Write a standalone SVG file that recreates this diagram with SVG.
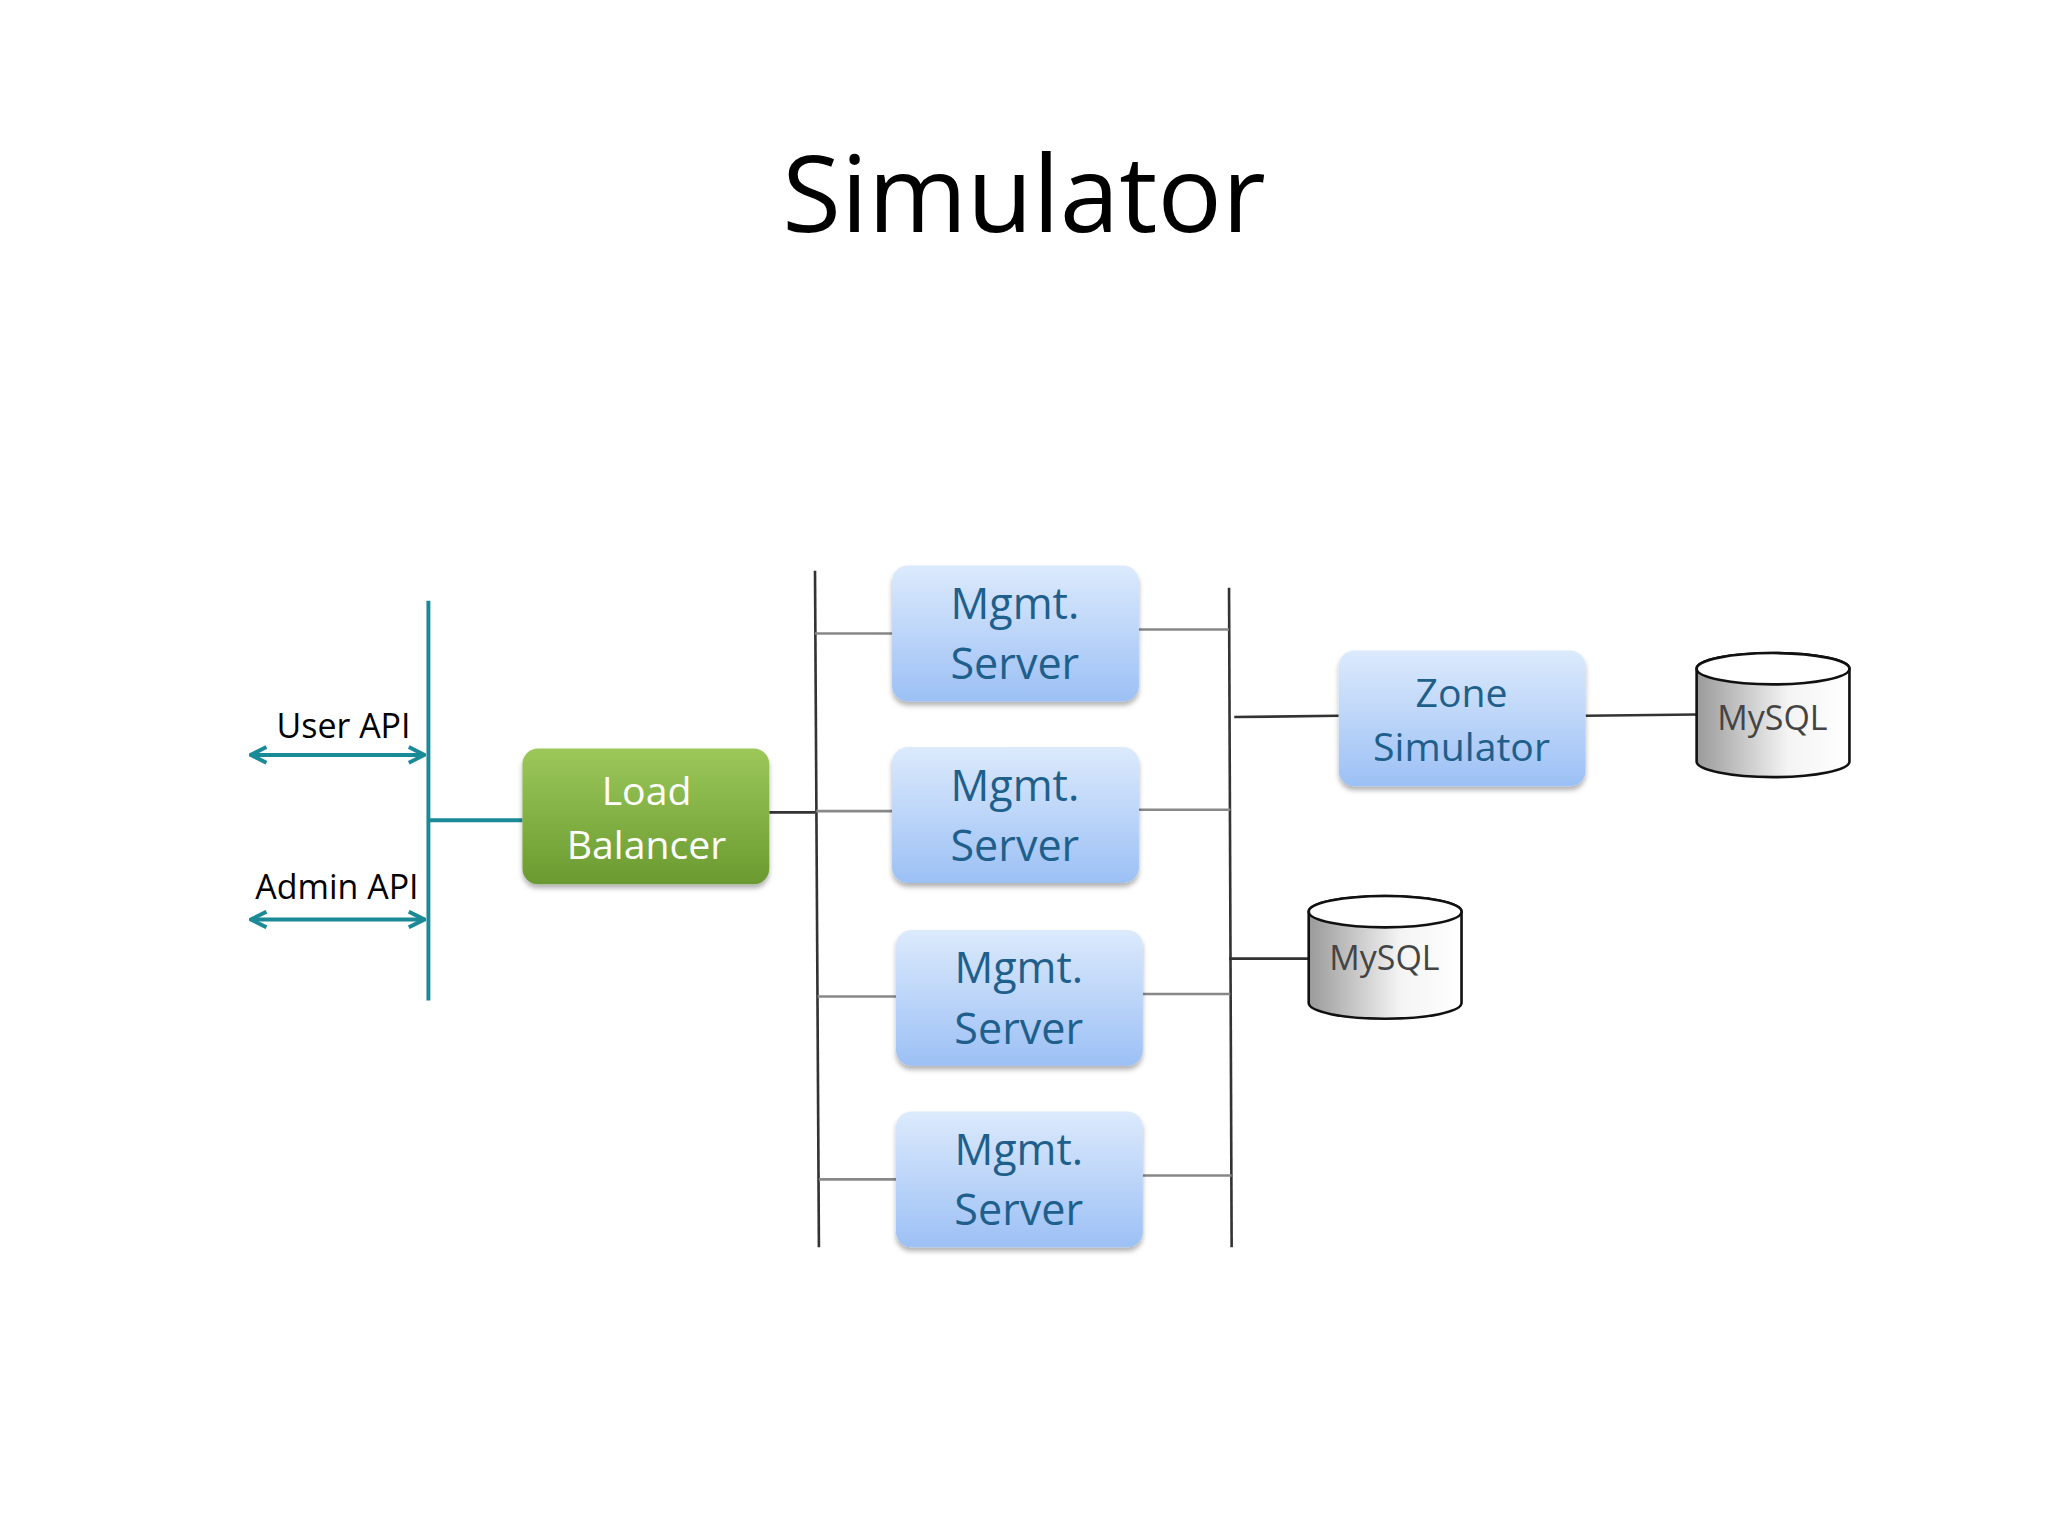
<svg xmlns="http://www.w3.org/2000/svg" width="2048" height="1536" viewBox="0 0 2048 1536">
<defs>
<linearGradient id="gb" x1="0" y1="0" x2="0" y2="1"><stop offset="0" stop-color="#dceafc"/><stop offset="1" stop-color="#9cc0f5"/></linearGradient>
<linearGradient id="gg" x1="0" y1="0" x2="0" y2="1"><stop offset="0" stop-color="#9cc85a"/><stop offset="1" stop-color="#6a9a30"/></linearGradient>
<linearGradient id="gc" x1="0" y1="0" x2="1" y2="0"><stop offset="0" stop-color="#9a9a9a"/><stop offset="0.6" stop-color="#f4f4f4"/><stop offset="1" stop-color="#ffffff"/></linearGradient>
<marker id="ah" viewBox="0 0 10 10" refX="9" refY="5" markerWidth="5" markerHeight="5" orient="auto-start-reverse"><path d="M1,1 L9,5 L1,9" fill="none" stroke="#1a8a96" stroke-width="2"/></marker>
<filter id="sh" x="-10%" y="-10%" width="120%" height="130%"><feDropShadow dx="0" dy="3" stdDeviation="2" flood-color="#000" flood-opacity="0.3"/></filter>
</defs>
<style>
text{font-family:"Open Sans","Noto Sans",sans-serif;text-anchor:middle}
.box{fill:url(#gb);filter:url(#sh)}
.bt{fill:#1f5f8b;font-size:33px}
.ln{stroke:#333;stroke-width:2;fill:none}
.lg{stroke:#888;stroke-width:2;fill:none}
.tl{stroke:#1a8a96;stroke-width:3;fill:none}
.cyl{fill:url(#gc);stroke:#111;stroke-width:2}
</style>
<rect width="2048" height="1536" fill="#fff"/>
<g transform="scale(1.3061)">
<text x="784" y="178" font-size="82" fill="#000">Simulator</text>
<g id="connectors">
<line class="tl" x1="328" y1="460" x2="328" y2="766"/>
<line class="tl" x1="192" y1="578" x2="325" y2="578" marker-start="url(#ah)" marker-end="url(#ah)"/>
<line class="tl" x1="192" y1="704" x2="325" y2="704" marker-start="url(#ah)" marker-end="url(#ah)"/>
<line class="tl" x1="328" y1="628" x2="400" y2="628"/>
<line class="ln" x1="589" y1="622" x2="624" y2="622"/>
<line class="ln" x1="624" y1="437" x2="627" y2="955"/>
<line class="ln" x1="941" y1="450" x2="943" y2="955"/>
<line class="lg" x1="624" y1="485" x2="683" y2="485"/>
<line class="lg" x1="625" y1="621" x2="683" y2="621"/>
<line class="lg" x1="626" y1="763" x2="686" y2="763"/>
<line class="lg" x1="627" y1="903" x2="686" y2="903"/>
<line class="lg" x1="872" y1="482" x2="941" y2="482"/>
<line class="lg" x1="872" y1="620" x2="942" y2="620"/>
<line class="lg" x1="875" y1="761" x2="942" y2="761"/>
<line class="lg" x1="875" y1="900" x2="943" y2="900"/>
<line class="ln" x1="945" y1="549" x2="1025" y2="548"/>
<line class="ln" x1="1214" y1="548" x2="1299" y2="547"/>
<line class="ln" x1="941" y1="734" x2="1002" y2="734"/>
</g>
<text x="263" y="565" font-size="26">User API</text>
<text x="258" y="688" font-size="26">Admin API</text>
<g id="lb"><rect x="400" y="573" width="189" height="104" rx="12" fill="url(#gg)" filter="url(#sh)"/>
<text x="495" y="616" font-size="30" fill="#fff">Load</text><text x="495" y="658" font-size="30" fill="#fff">Balancer</text></g>
<g id="m1"><rect class="box" x="683" y="433" width="189" height="104" rx="12"/><text class="bt" x="777" y="474">Mgmt.</text><text class="bt" x="777" y="520">Server</text></g>
<g id="m2"><rect class="box" x="683" y="572" width="189" height="104" rx="12"/><text class="bt" x="777" y="613">Mgmt.</text><text class="bt" x="777" y="659">Server</text></g>
<g id="m3"><rect class="box" x="686" y="712" width="189" height="104" rx="12"/><text class="bt" x="780" y="753">Mgmt.</text><text class="bt" x="780" y="799">Server</text></g>
<g id="m4"><rect class="box" x="686" y="851" width="189" height="104" rx="12"/><text class="bt" x="780" y="892">Mgmt.</text><text class="bt" x="780" y="938">Server</text></g>
<g id="zone"><rect class="box" x="1025" y="498" width="189" height="104" rx="12"/><text class="bt" x="1119" y="541" font-size="30" style="font-size:30px">Zone</text><text class="bt" x="1119" y="583" style="font-size:30px">Simulator</text></g>
<g id="db1"><path class="cyl" d="M1299,512 L1299,583 A58.5,12 0 0 0 1416,583 L1416,512 A58.5,12 0 0 0 1299,512 Z"/><ellipse cx="1357.5" cy="512" rx="58.5" ry="12" fill="#fff" stroke="#111" stroke-width="2"/><text x="1357" y="559" font-size="26" fill="#444">MySQL</text></g>
<g id="db2"><path class="cyl" d="M1002,698 L1002,768 A58.5,12 0 0 0 1119,768 L1119,698 A58.5,12 0 0 0 1002,698 Z"/><ellipse cx="1060.5" cy="698" rx="58.5" ry="12" fill="#fff" stroke="#111" stroke-width="2"/><text x="1060" y="743" font-size="26" fill="#444">MySQL</text></g>
</g>
</svg>
